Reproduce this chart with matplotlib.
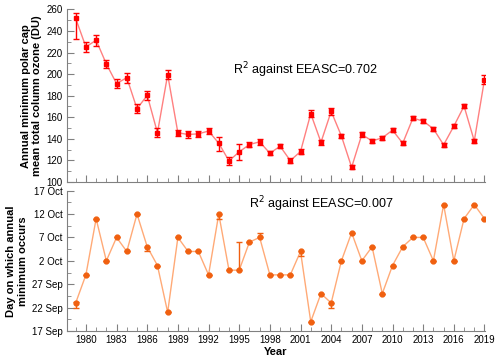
import numpy as np
import matplotlib.pyplot as plt

plt.rcParams['font.family'] = ['Liberation Sans', 'DejaVu Sans']

years = np.arange(1979, 2020)

# annual minimum polar cap ozone (DU)
ozone = [251.6, 225.2, 231.4, 209.4, 191.2, 196.7, 167.9, 180.3, 145.6, 199.5,
         145.6, 144.0, 144.6, 147.2, 135.9, 119.5, 127.9, 134.7, 137.2, 126.6,
         133.1, 119.8, 128.2, 163.3, 136.8, 165.4, 142.6, 113.6, 144.0, 138.0,
         140.9, 148.0, 135.9, 159.2, 156.4, 149.3, 134.4, 151.7, 170.3, 138.0,
         194.9]
oz_err_lo = [19, 4.5, 5, 4, 4, 4.5, 4, 4, 3.5, 4.5,
             3, 3, 3, 3, 7, 3.5, 7.5, 2, 2.5, 2,
             2, 2.5, 2, 3, 2.5, 3, 2, 2, 2, 2,
             2, 2, 2, 2, 2, 2, 2, 2, 2, 2,
             4]
oz_err_hi = [5.5, 4.5, 5, 4, 4, 4.5, 4, 4, 4, 4.5,
             3, 3, 3, 3, 6, 3.5, 7.5, 2, 2.5, 2,
             2, 2.5, 2, 3, 2.5, 3, 2, 2, 2, 2,
             2, 2, 2, 2, 2, 2, 2, 2, 2, 2,
             4]

# day of minimum, counted in days after 17 Sep
day = [6, 12, 24, 15, 20, 17, 25, 18, 14, 4,
       20, 17, 17, 12, 25, 13, 13, 19, 20, 12,
       12, 12, 17, 2, 8, 6, 15, 21, 15, 18,
       8, 14, 18, 20, 20, 15, 27, 15, 24, 27,
       24]
day_err_lo = [1, 0, 0, 0, 0, 0, 0, 1, 0, 0,
              0, 0, 0, 0, 1, 0, 0, 0, 0, 0,
              0, 0, 1, 0, 0, 1, 0, 0, 0, 0,
              0, 0, 0, 0, 0, 0, 0, 0, 0, 0,
              0]
day_err_hi = [0.3, 0, 0, 0, 0, 0, 0, 0, 0, 0,
              0, 0, 0, 0, 0, 0, 6, 0, 1, 0,
              0, 0, 0, 0, 0, 0, 0, 0, 0, 0,
              0, 0, 0, 0, 0, 0, 0, 0, 0, 0,
              0]
day_ticks = [0, 5, 10, 15, 20, 25, 30]
day_labels = ['17 Sep', '22 Sep', '27 Sep', '2 Oct', '7 Oct', '12 Oct', '17 Oct']
year_ticks = np.arange(1980, 2020, 3)

fig = plt.figure(figsize=(5, 3.61), dpi=100)
ax1 = fig.add_axes([0.134, 0.496, 0.836, 0.478])
ax2 = fig.add_axes([0.134, 0.083, 0.836, 0.389])

ax1.plot(years, ozone, color='#ff8080', lw=1, zorder=1)
ax1.errorbar(years, ozone, yerr=[oz_err_lo, oz_err_hi], fmt='s', color='#ff0000',
             ms=3.5, elinewidth=1, capsize=2, capthick=1, zorder=2)
ax1.text(2001.5, 203.5, 'R$^2$ against EEASC=0.702', ha='center', va='center', fontsize=9)
ax1.set_ylim(100, 260)
ax1.set_yticks(np.arange(100, 261, 20))
ax1.set_yticks(np.arange(100, 261, 10), minor=True)
ax1.set_ylabel('Annual minimum polar cap\nmean total column ozone (DU)', fontsize=8,
               fontweight='bold', labelpad=3)

ax2.plot(years, day, color='#ffaa77', lw=1, zorder=1)
ax2.errorbar(years, day, yerr=[day_err_lo, day_err_hi], fmt='o', color='#f06010',
             ms=3.5, elinewidth=1, capsize=2, capthick=1, zorder=2)
ax2.text(2003, 27.1, 'R$^2$ against EEASC=0.007', ha='center', va='center', fontsize=9)
ax2.set_ylim(0, 30)
ax2.set_yticks(day_ticks)
ax2.set_yticklabels(day_labels)
ax2.set_yticks(np.arange(0, 30.1, 2.5), minor=True)
ax2.set_ylabel('Day on which annual\nminimum occurs', fontsize=8, fontweight='bold', labelpad=3)
ax2.set_xlabel('Year', fontsize=8, fontweight='bold', labelpad=1)

for ax in (ax1, ax2):
    ax.set_xlim(1978.15, 2019.05)
    ax.set_xticks(year_ticks)
    ax.set_xticks(np.arange(1979, 2020), minor=True)
    ax.spines['top'].set_visible(False)
    ax.spines['right'].set_visible(False)
    ax.spines['left'].set_color('#808080')
    ax.spines['bottom'].set_color('#808080')
    ax.tick_params(which='both', direction='in', color='#808080', labelsize=7, pad=3)
    ax.tick_params(which='major', length=5)
    ax.tick_params(which='minor', length=3)
ax1.tick_params(axis='x', labelbottom=False)

fig.savefig('out.png')
